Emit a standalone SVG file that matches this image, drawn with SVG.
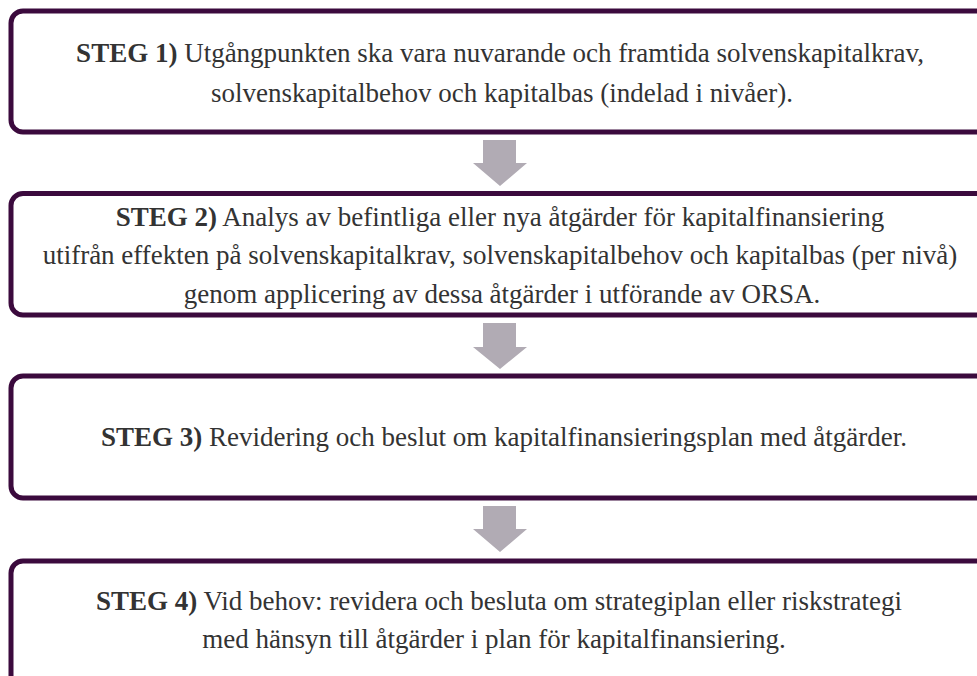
<svg xmlns="http://www.w3.org/2000/svg" width="977" height="676" viewBox="0 0 977 676">
<style>
.box{fill:#ffffff;stroke:#3b0a3d;stroke-width:5}
.arr{fill:#b1abb4;stroke:none}
.t{font-family:'Liberation Serif','Times New Roman',serif;font-size:27px;fill:#333333;text-anchor:middle}
.b{font-weight:bold}
</style>
<rect width="977" height="676" fill="#ffffff"/>
<g id="step1">
<rect class="box" x="11" y="11" width="1000" height="121" rx="12"/>
<text class="t" x="500" y="62"><tspan class="b">STEG 1)</tspan> Utgångpunkten ska vara nuvarande och framtida solvenskapitalkrav,</text>
<text class="t" x="502" y="102">solvenskapitalbehov och kapitalbas (indelad i nivåer).</text>
</g>
<g id="step2">
<rect class="box" x="11" y="193.5" width="1000" height="121.5" rx="12"/>
<text class="t" x="500" y="226"><tspan class="b">STEG 2)</tspan> Analys av befintliga eller nya åtgärder för kapitalfinansiering</text>
<text class="t" x="500" y="264">utifrån effekten på solvenskapitalkrav, solvenskapitalbehov och kapitalbas (per nivå)</text>
<text class="t" x="502" y="303">genom applicering av dessa åtgärder i utförande av ORSA.</text>
</g>
<g id="step3">
<rect class="box" x="11" y="376" width="1000" height="122" rx="12"/>
<text class="t" x="504" y="446"><tspan class="b">STEG 3)</tspan> Revidering och beslut om kapitalfinansieringsplan med åtgärder.</text>
</g>
<g id="step4">
<rect class="box" x="11" y="561" width="1000" height="140" rx="12"/>
<text class="t" x="499" y="610"><tspan class="b">STEG 4)</tspan> Vid behov: revidera och besluta om strategiplan eller riskstrategi</text>
<text class="t" x="494" y="648">med hänsyn till åtgärder i plan för kapitalfinansiering.</text>
</g>
<g id="connectors">
<polygon class="arr" points="483,140 516,140 516,163 527,163 500,186 473,163 483,163"/>
<polygon class="arr" points="483,323 516,323 516,347 527,347 500,369 473,347 483,347"/>
<polygon class="arr" points="483,506 516,506 516,529 527,529 500,552 473,529 483,529"/>
</g>
</svg>
